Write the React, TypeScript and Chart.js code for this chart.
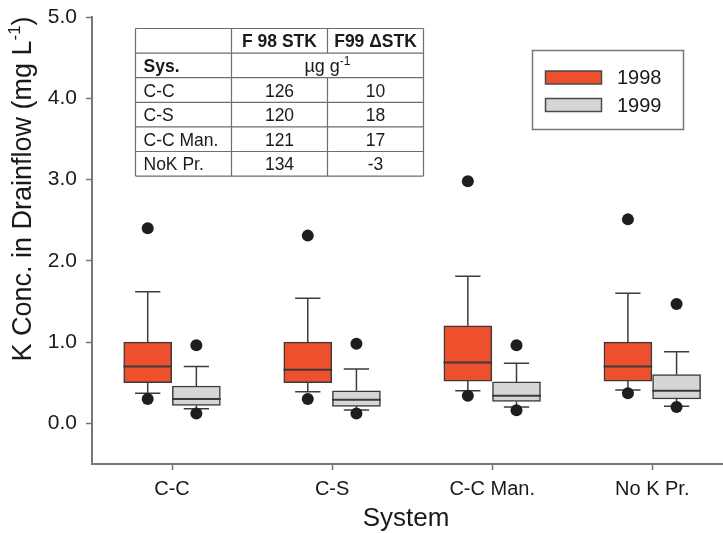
import React, { useEffect, useRef } from 'react';
import { Chart, registerables } from 'chart.js';

Chart.register(...registerables);

const FONT = "'Liberation Sans', Arial, Helvetica, sans-serif";

const categories = ['C-C', 'C-S', 'C-C Man.', 'No K Pr.'];
const yTickValues = [0, 1, 2, 3, 4, 5];
const seriesNames = ['1998', '1999'];

const whiskerLow1998 = [0.37, 0.39, 0.40, 0.41];
const q1_1998 = [0.50, 0.50, 0.52, 0.52];
const median1998 = [0.70, 0.66, 0.75, 0.70];
const q3_1998 = [1.00, 1.00, 1.20, 1.00];
const whiskerHigh1998 = [1.62, 1.54, 1.81, 1.60];
const outlierLow1998 = [0.30, 0.30, 0.34, 0.37];
const outlierHigh1998 = [2.40, 2.31, 2.98, 2.51];

const whiskerLow1999 = [0.18, 0.165, 0.20, 0.21];
const q1_1999 = [0.22, 0.21, 0.27, 0.30];
const median1999 = [0.30, 0.29, 0.34, 0.40];
const q3_1999 = [0.46, 0.40, 0.51, 0.60];
const whiskerHigh1999 = [0.70, 0.67, 0.74, 0.88];
const outlierLow1999 = [0.12, 0.12, 0.16, 0.20];
const outlierHigh1999 = [0.96, 0.98, 0.96, 1.47];

const tableHeaders = ['', 'F 98 STK', 'F99 \u0394STK'];
const tableUnitLabel = 'Sys.';
const tableSystems = ['C-C', 'C-S', 'C-C Man.', 'NoK Pr.'];
const tableF98STK = ['126', '120', '121', '134'];
const tableF99dSTK = ['10', '18', '17', '-3'];

const COLOR_1998 = '#EE4F2C';
const COLOR_1999 = '#D8D6D5';
const AXIS = '#777777';
const INK = '#1a1a1a';
const HALF = 0.152;
const CAP = 0.079;

function makeBox(name: string, color: string, side: number, lo: number[], q1: number[], med: number[], q3: number[], hi: number[], oLo: number[], oHi: number[]) {
  const cx = (i: number) => i + 1 + side * HALF;
  const whisk: any[] = [];
  const medians: any[] = [];
  const outliers: any[] = [];
  categories.forEach((_, i) => {
    const x = cx(i);
    whisk.push(
      { x, y: q3[i] }, { x, y: hi[i] }, { x, y: null },
      { x: x - CAP, y: hi[i] }, { x: x + CAP, y: hi[i] }, { x, y: null },
      { x, y: q1[i] }, { x, y: lo[i] }, { x, y: null },
      { x: x - CAP, y: lo[i] }, { x: x + CAP, y: lo[i] }, { x, y: null },
    );
    medians.push({ x: x - HALF, y: med[i] }, { x: x + HALF, y: med[i] }, { x, y: null });
    outliers.push({ x, y: oLo[i] }, { x, y: oHi[i] });
  });
  return [
    { type: 'line', label: name + ' whiskers', data: whisk, borderColor: '#3c3c3c', borderWidth: 1.5, pointRadius: 0, spanGaps: false, fill: false, order: 4 },
    { type: 'bar', label: name, data: categories.map((_, i) => ({ x: cx(i), y: [q1[i], q3[i]] })), backgroundColor: color, borderColor: '#3a3a3a', borderWidth: 1.5, borderSkipped: false, barThickness: 48, grouped: false, order: 3 },
    { type: 'line', label: name + ' median', data: medians, borderColor: '#3a3a3a', borderWidth: 2, pointRadius: 0, spanGaps: false, fill: false, order: 2 },
    { type: 'scatter', label: name + ' outliers', data: outliers, pointRadius: 6, pointBackgroundColor: '#1e1e1e', backgroundColor: '#1e1e1e', pointBorderWidth: 0, borderWidth: 0, order: 1, clip: false },
  ];
}

function drawSupText(ctx: CanvasRenderingContext2D, parts: { t: string; sup?: boolean }[], size: number, supSize: number, supRise: number, cx: number, y: number, bold = false) {
  const f = (s: number) => `${bold ? 'bold ' : ''}${s}px ${FONT}`;
  const widths = parts.map((p) => { ctx.font = f(p.sup ? supSize : size); return ctx.measureText(p.t).width; });
  const total = widths.reduce((a, b) => a + b, 0);
  let x = cx - total / 2;
  ctx.textAlign = 'left';
  ctx.textBaseline = 'alphabetic';
  parts.forEach((p, i) => {
    ctx.font = f(p.sup ? supSize : size);
    ctx.fillText(p.t, x, p.sup ? y - supRise : y);
    x += widths[i];
  });
}

const decorPlugin = {
  id: 'decor',
  afterDraw(chart: any) {
    const ctx: CanvasRenderingContext2D = chart.ctx;
    ctx.save();
    ctx.fillStyle = INK;

    // Y axis title
    ctx.save();
    ctx.translate(31, 189);
    ctx.rotate(-Math.PI / 2);
    drawSupText(ctx, [{ t: 'K Conc. in Drainflow (mg L' }, { t: '-1', sup: true }, { t: ')' }], 27, 17, 11, 0, 0);
    ctx.restore();

    // X axis title
    ctx.font = `26px ${FONT}`;
    ctx.textAlign = 'center';
    ctx.textBaseline = 'alphabetic';
    ctx.fillText('System', 406, 526);

    // Legend
    ctx.strokeStyle = AXIS;
    ctx.lineWidth = 1.5;
    ctx.strokeRect(532.5, 50.5, 151, 79);
    const swatchY = [71, 98.5];
    const colors = [COLOR_1998, COLOR_1999];
    seriesNames.forEach((n, i) => {
      ctx.fillStyle = colors[i];
      ctx.fillRect(545.5, swatchY[i], 56, 13);
      ctx.strokeStyle = '#4a4a4a';
      ctx.lineWidth = 1.5;
      ctx.strokeRect(545.5, swatchY[i], 56, 13);
      ctx.fillStyle = INK;
      ctx.font = `20px ${FONT}`;
      ctx.textAlign = 'left';
      ctx.textBaseline = 'middle';
      ctx.fillText(n, 617, swatchY[i] + 7.5);
    });

    // Table
    const tx = [135.5, 231.5, 327.5, 423.5];
    const top = 28.5;
    const rowH = 24.6;
    const nRows = 6;
    ctx.strokeStyle = '#6e6e6e';
    ctx.lineWidth = 1.2;
    ctx.beginPath();
    for (let r = 0; r <= nRows; r++) {
      const y = top + r * rowH;
      ctx.moveTo(tx[0], y); ctx.lineTo(tx[3], y);
    }
    ctx.moveTo(tx[0], top); ctx.lineTo(tx[0], top + nRows * rowH);
    ctx.moveTo(tx[1], top); ctx.lineTo(tx[1], top + nRows * rowH);
    ctx.moveTo(tx[3], top); ctx.lineTo(tx[3], top + nRows * rowH);
    ctx.moveTo(tx[2], top); ctx.lineTo(tx[2], top + rowH);
    ctx.moveTo(tx[2], top + 2 * rowH); ctx.lineTo(tx[2], top + nRows * rowH);
    ctx.stroke();

    ctx.fillStyle = INK;
    const base = (r: number) => top + r * rowH + rowH / 2 + 6.5;
    const c1 = (tx[1] + tx[2]) / 2;
    const c2 = (tx[2] + tx[3]) / 2;
    ctx.textBaseline = 'alphabetic';
    ctx.font = `bold 17.5px ${FONT}`;
    ctx.textAlign = 'center';
    ctx.fillText(tableHeaders[1], c1, base(0));
    ctx.fillText(tableHeaders[2], c2, base(0));
    ctx.textAlign = 'left';
    ctx.fillText(tableUnitLabel, tx[0] + 8, base(1));
    drawSupText(ctx, [{ t: '\u00b5g g' }, { t: '-1', sup: true }], 18, 12, 7, tx[2], base(1));
    ctx.font = `17.5px ${FONT}`;
    tableSystems.forEach((s, i) => {
      const r = i + 2;
      ctx.textAlign = 'left';
      ctx.fillText(s, tx[0] + 8, base(r));
      ctx.textAlign = 'center';
      ctx.fillText(tableF98STK[i], c1, base(r));
      ctx.fillText(tableF99dSTK[i], c2, base(r));
    });
    ctx.restore();
  },
};

export default function App() {
  const ref = useRef<HTMLCanvasElement>(null);
  useEffect(() => {
    document.body.style.margin = '0';
    const datasets: any[] = [
      ...makeBox(seriesNames[0], COLOR_1998, -1, whiskerLow1998, q1_1998, median1998, q3_1998, whiskerHigh1998, outlierLow1998, outlierHigh1998),
      ...makeBox(seriesNames[1], COLOR_1999, 1, whiskerLow1999, q1_1999, median1999, q3_1999, whiskerHigh1999, outlierLow1999, outlierHigh1999),
    ];
    const chart = new Chart(ref.current as HTMLCanvasElement, {
      type: 'bar',
      data: { datasets },
      options: {
        animation: false,
        responsive: false,
        devicePixelRatio: 1,
        events: [],
        layout: { autoPadding: false, padding: { top: 17, left: 0, right: 0, bottom: 0 } },
        plugins: { legend: { display: false }, tooltip: { enabled: false }, title: { display: false } },
        scales: {
          x: {
            type: 'linear',
            min: 0.5,
            max: 4.442,
            offset: false,
            afterBuildTicks: (s: any) => { s.ticks = categories.map((_, i) => ({ value: i + 1 })); },
            afterFit: (s: any) => { s.height = 69; s.paddingLeft = 0; s.paddingRight = 0; },
            ticks: {
              callback: (v: any) => categories[Math.round(Number(v)) - 1] ?? '',
              font: { family: FONT, size: 20 },
              color: INK,
              padding: 7,
              maxRotation: 0,
              autoSkip: false,
            },
            grid: { offset: false, drawOnChartArea: false, drawTicks: true, tickLength: 6, tickColor: AXIS, tickWidth: 1.5, color: AXIS },
            border: { display: true, color: AXIS, width: 2 },
          },
          y: {
            type: 'linear',
            min: -0.5,
            max: 5,
            beginAtZero: false,
            afterBuildTicks: (s: any) => { s.ticks = yTickValues.map((v) => ({ value: v })); },
            afterFit: (s: any) => { s.width = 92; s.paddingTop = 0; s.paddingBottom = 0; },
            ticks: {
              callback: (v: any) => Number(v).toFixed(1),
              font: { family: FONT, size: 21 },
              color: INK,
              padding: 9,
            },
            grid: { drawOnChartArea: false, drawTicks: true, tickLength: 6, tickColor: AXIS, tickWidth: 1.5, color: AXIS },
            border: { display: true, color: AXIS, width: 2 },
          },
        },
      } as any,
      plugins: [decorPlugin],
    } as any);
    return () => chart.destroy();
  }, []);
  return (
    <div style={{ width: 723, height: 533, background: '#fff' }}>
      <canvas ref={ref} width={723} height={533} style={{ display: 'block' }} />
    </div>
  );
}
